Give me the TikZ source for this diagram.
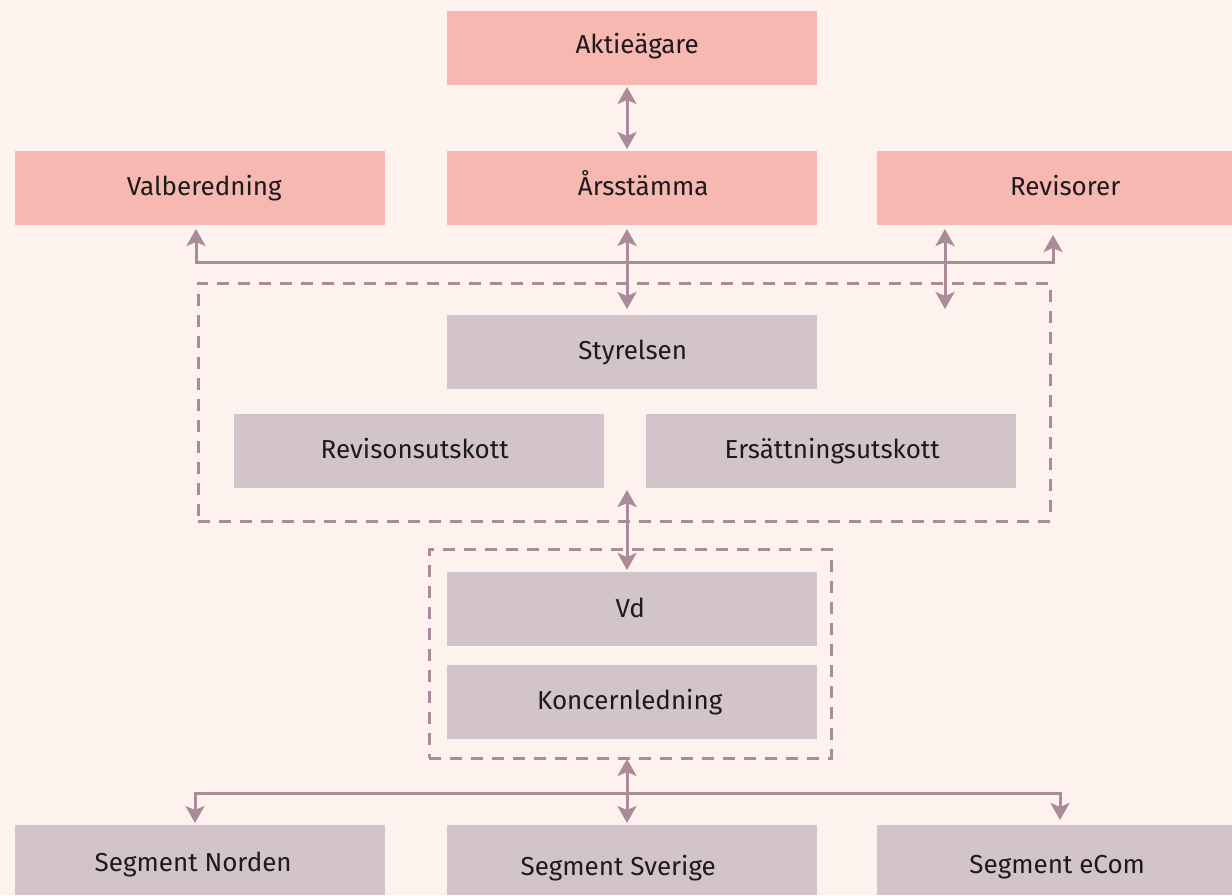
\documentclass[tikz,border=0pt]{standalone}
\usepackage{fontspec}
\setmainfont{Fira Sans}
\usetikzlibrary{arrows.meta}
\definecolor{bg}{HTML}{FEF2EF}
\definecolor{pinkbox}{HTML}{F7B8B1}
\definecolor{mauvebox}{HTML}{D3C4CB}
\definecolor{linec}{HTML}{AB8A9A}
\definecolor{txt}{HTML}{1C1A1B}
\newcommand\lift[2]{\raisebox{#1pt}{#2}}
\begin{document}
\begin{tikzpicture}[x=1pt,y=-1pt,
  box/.style={minimum width=370pt,minimum height=74pt,inner sep=0pt,anchor=north west,font=\fontsize{26}{30}\selectfont,text=txt,text height=18pt,text depth=0pt},
  pbox/.style={box,fill=pinkbox},
  mbox/.style={box,fill=mauvebox},
  conn/.style={draw=linec,line width=3pt},
  tip/.style={-{Stealth[length=17pt,width=19pt,inset=4pt]}},
  dtip/.style={{Stealth[length=17pt,width=19pt,inset=4pt]}-{Stealth[length=17pt,width=19pt,inset=4pt]}},
  dbox/.style={draw=linec,line width=2.6pt,dash pattern=on 12pt off 9pt}]
\fill[bg] (0,0) rectangle (1232,895);
\useasboundingbox (0,0) rectangle (1232,895);
% dashed groups
\node[dbox,minimum width=852pt,minimum height=238pt,anchor=north west,inner sep=0pt] (grp1) at (197,282) {};
\node[dbox,minimum width=402pt,minimum height=209pt,anchor=north west,inner sep=0pt] (grp2) at (428,548) {};
% boxes
\node[pbox] (akt) at (447,11) {\hspace*{10pt}\lift{4}{Aktieägare}};
\node[pbox] (val) at (15,151) {\hspace*{8pt}\lift{2}{Valberedning}};
\node[pbox] (ars) at (447,151) {\hspace*{22pt}\lift{2}{Årsstämma}};
\node[pbox] (rev) at (877,151) {\hspace*{6pt}\lift{2}{Revisorer}};
\node[mbox] (sty) at (447,315) {\hspace*{1pt}\lift{2}{Styrelsen}};
\node[mbox] (rut) at (234,414) {\hspace*{-9pt}\lift{2}{Revisonsutskott}};
\node[mbox] (eut) at (646,414) {\hspace*{2pt}\lift{2}{Ersättningsutskott}};
\node[mbox] (vd) at (447,572) {\hspace*{-4pt}\lift{1}{Vd}};
\node[mbox] (kon) at (447,665) {\hspace*{-5pt}\lift{2}{Koncernledning}};
\node[mbox,minimum height=70pt] (sno) at (15,825) {\hspace*{-14pt}\lift{-2}{Segment Norden}};
\node[mbox,minimum height=70pt] (ssv) at (447,825) {\hspace*{-28pt}\lift{-6}{Segment Sverige}};
\node[mbox,minimum height=70pt] (sec) at (877,825) {\hspace*{-10pt}\lift{-4}{Segment eCom}};
% connector end points
\coordinate (a1) at (627,87);   \coordinate (a2) at (627,149);
\coordinate (b1) at (627,229);  \coordinate (b2) at (627,309);
\coordinate (r1) at (945,229);  \coordinate (r2) at (945,309);
\coordinate (hl) at (196,262);  \coordinate (hr) at (1053,262);
\coordinate (hlt) at (196,229); \coordinate (hrt) at (1053,235);
\coordinate (c1) at (627,490);  \coordinate (c2) at (627,570);
\coordinate (d1) at (627,759);  \coordinate (d2) at (627,823);
\coordinate (bl) at (195,793);  \coordinate (br) at (1060,793);
\coordinate (blt) at (195,823); \coordinate (brt) at (1060,820);
% connectors
\draw[conn,dtip] (a1) -- (a2);
\draw[conn,dtip] (b1) -- (b2);
\draw[conn,dtip] (r1) -- (r2);
\draw[conn,tip] (hl) -- (hr) -- (hrt);
\draw[conn,tip] (hr) -- (hl) -- (hlt);
\draw[conn,dtip] (c1) -- (c2);
\draw[conn,dtip] (d1) -- (d2);
\draw[conn,tip] (br) -- (bl) -- (blt);
\draw[conn,tip] (bl) -- (br) -- (brt);
\end{tikzpicture}
\end{document}
